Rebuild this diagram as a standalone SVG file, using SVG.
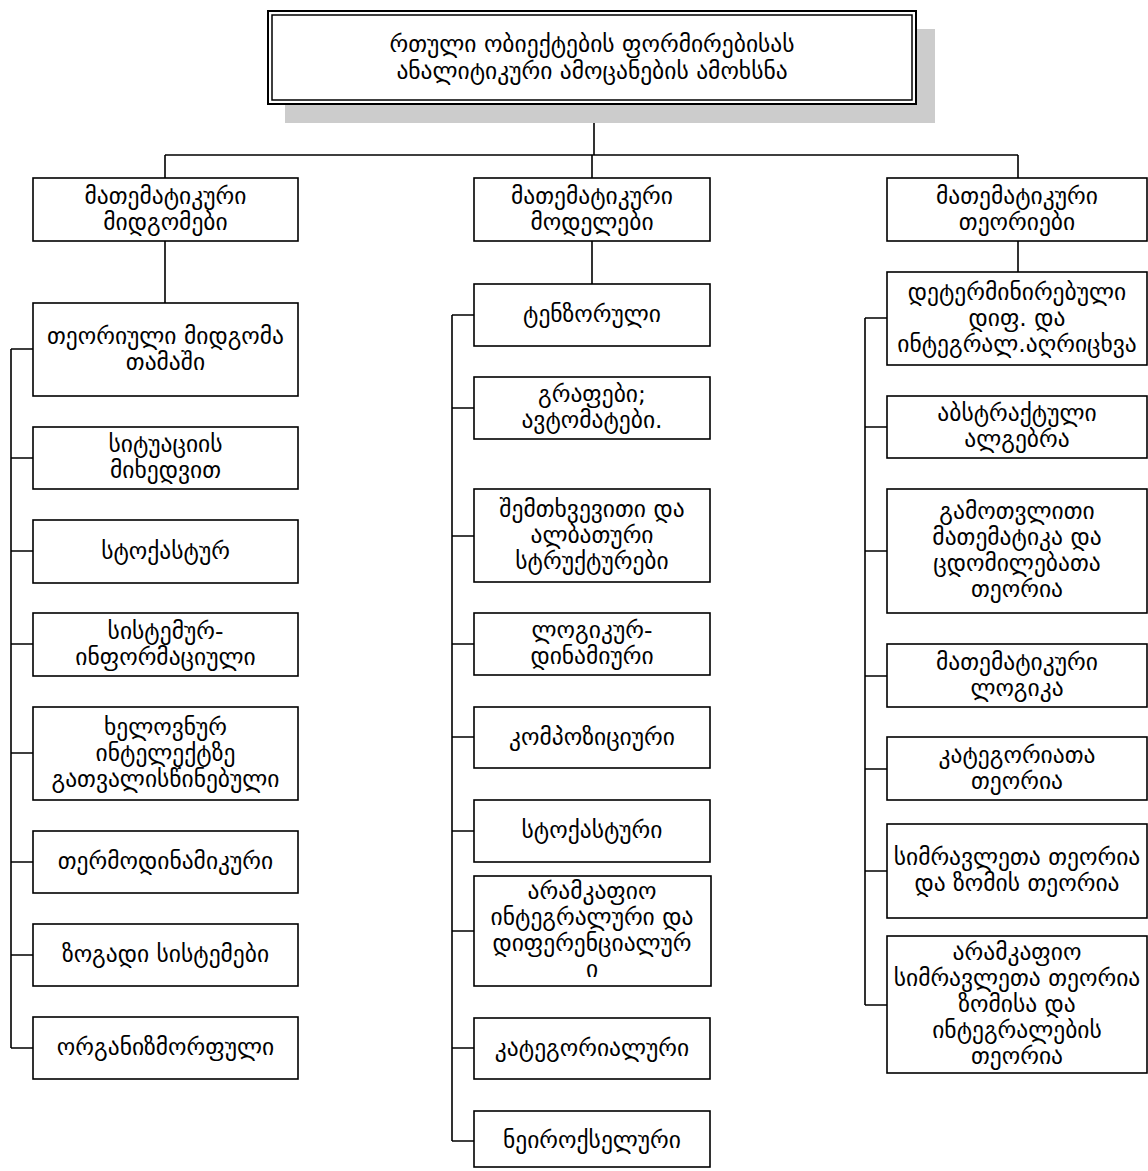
<svg xmlns="http://www.w3.org/2000/svg" width="1148" height="1171" viewBox="0 0 1148 1171">
<style>
.box{fill:#fff;stroke:#000;stroke-width:1.6}
.ln{fill:none;stroke:#000;stroke-width:1.6}
text{font-family:"DejaVu Sans","Noto Sans",sans-serif;font-size:23.5px;fill:#000;text-anchor:middle}
</style>
<rect width="1148" height="1171" fill="#fff"/>
<g id="connectors">
<path class="ln" d="M594,104 V155 M165,155 H1018 M165,155 V178 M592,155 V178 M1018,155 V178"/>
<path class="ln" d="M165,241 V303 M11,349 V1048 M11,349 H33 M11,458 H33 M11,551 H33 M11,644 H33 M11,753 H33 M11,862 H33 M11,955 H33 M11,1048 H33"/>
<path class="ln" d="M592,241 V284 M452,315 V1141 M452,315 H474 M452,408 H474 M452,536 H474 M452,644 H474 M452,737 H474 M452,831 H474 M452,931 H474 M452,1048 H474 M452,1141 H474"/>
<path class="ln" d="M1018,241 V272 M865,318 V1005 M865,318 H887 M865,427 H887 M865,551 H887 M865,676 H887 M865,769 H887 M865,871 H887 M865,1005 H887"/>
</g>
<g id="root">
<rect x="285" y="29" width="650" height="94" fill="#cccccc"/>
<rect x="268" y="11" width="648" height="93" fill="#fff" stroke="#000" stroke-width="2"/>
<rect x="272" y="15" width="640" height="85" fill="none" stroke="#000" stroke-width="1.5"/>
<text x="592"><tspan x="592" y="52">რთული ობიექტების ფორმირებისას</tspan><tspan x="592" y="79">ანალიტიკური ამოცანების ამოხსნა</tspan></text>
</g>
<g id="c1-header"><rect class="box" x="33" y="178" width="265" height="63"/><text><tspan x="165.5" y="204">მათემატიკური</tspan><tspan x="165.5" y="230">მიდგომები</tspan></text></g>
<g id="c1-n1"><rect class="box" x="33" y="303" width="265" height="93"/><text><tspan x="165.5" y="344">თეორიული მიდგომა</tspan><tspan x="165.5" y="370">თამაში</tspan></text></g>
<g id="c1-n2"><rect class="box" x="33" y="427" width="265" height="62"/><text><tspan x="165.5" y="452">სიტუაციის</tspan><tspan x="165.5" y="478">მიხედვით</tspan></text></g>
<g id="c1-n3"><rect class="box" x="33" y="520" width="265" height="63"/><text x="165.5" y="559">სტოქასტურ</text></g>
<g id="c1-n4"><rect class="box" x="33" y="613" width="265" height="63"/><text><tspan x="165.5" y="639">სისტემურ-</tspan><tspan x="165.5" y="665">ინფორმაციული</tspan></text></g>
<g id="c1-n5"><rect class="box" x="33" y="707" width="265" height="93"/><text><tspan x="165.5" y="735">ხელოვნურ</tspan><tspan x="165.5" y="761">ინტელექტზე</tspan><tspan x="165.5" y="787">გათვალისწინებული</tspan></text></g>
<g id="c1-n6"><rect class="box" x="33" y="831" width="265" height="62"/><text x="165.5" y="869">თერმოდინამიკური</text></g>
<g id="c1-n7"><rect class="box" x="33" y="924" width="265" height="62"/><text x="165.5" y="962">ზოგადი სისტემები</text></g>
<g id="c1-n8"><rect class="box" x="33" y="1017" width="265" height="62"/><text x="165.5" y="1055">ორგანიზმორფული</text></g>
<g id="c2-header"><rect class="box" x="474" y="178" width="236" height="63"/><text><tspan x="592" y="204">მათემატიკური</tspan><tspan x="592" y="230">მოდელები</tspan></text></g>
<g id="c2-n1"><rect class="box" x="474" y="284" width="236" height="62"/><text x="592" y="322">ტენზორული</text></g>
<g id="c2-n2"><rect class="box" x="474" y="377" width="236" height="62"/><text><tspan x="592" y="402">გრაფები;</tspan><tspan x="592" y="428">ავტომატები.</tspan></text></g>
<g id="c2-n3"><rect class="box" x="474" y="489" width="236" height="93"/><text><tspan x="592" y="517">შემთხვევითი და</tspan><tspan x="592" y="543">ალბათური</tspan><tspan x="592" y="569">სტრუქტურები</tspan></text></g>
<g id="c2-n4"><rect class="box" x="474" y="613" width="236" height="62"/><text><tspan x="592" y="638">ლოგიკურ-</tspan><tspan x="592" y="664">დინამიური</tspan></text></g>
<g id="c2-n5"><rect class="box" x="474" y="707" width="236" height="61"/><text x="592" y="745">კომპოზიციური</text></g>
<g id="c2-n6"><rect class="box" x="474" y="800" width="236" height="62"/><text x="592" y="838">სტოქასტური</text></g>
<g id="c2-n7"><rect class="box" x="474" y="876" width="237" height="110"/><text><tspan x="592" y="899">არამკაფიო</tspan><tspan x="592" y="925">ინტეგრალური და</tspan><tspan x="592" y="951">დიფერენციალურ</tspan><tspan x="592" y="977">ი</tspan></text></g>
<g id="c2-n8"><rect class="box" x="474" y="1018" width="236" height="61"/><text x="592" y="1056">კატეგორიალური</text></g>
<g id="c2-n9"><rect class="box" x="474" y="1111" width="236" height="56"/><text x="592" y="1148">ნეიროქსელური</text></g>
<g id="c3-header"><rect class="box" x="887" y="178" width="260" height="63"/><text><tspan x="1017" y="204">მათემატიკური</tspan><tspan x="1017" y="230">თეორიები</tspan></text></g>
<g id="c3-n1"><rect class="box" x="887" y="272" width="260" height="93"/><text><tspan x="1017" y="300">დეტერმინირებული</tspan><tspan x="1017" y="326">დიფ. და</tspan><tspan x="1017" y="352">ინტეგრალ.აღრიცხვა</tspan></text></g>
<g id="c3-n2"><rect class="box" x="887" y="396" width="260" height="62"/><text><tspan x="1017" y="421">აბსტრაქტული</tspan><tspan x="1017" y="447">ალგებრა</tspan></text></g>
<g id="c3-n3"><rect class="box" x="887" y="489" width="260" height="124"/><text><tspan x="1017" y="519">გამოთვლითი</tspan><tspan x="1017" y="545">მათემატიკა და</tspan><tspan x="1017" y="571">ცდომილებათა</tspan><tspan x="1017" y="597">თეორია</tspan></text></g>
<g id="c3-n4"><rect class="box" x="887" y="644" width="260" height="63"/><text><tspan x="1017" y="670">მათემატიკური</tspan><tspan x="1017" y="696">ლოგიკა</tspan></text></g>
<g id="c3-n5"><rect class="box" x="887" y="737" width="260" height="63"/><text><tspan x="1017" y="763">კატეგორიათა</tspan><tspan x="1017" y="789">თეორია</tspan></text></g>
<g id="c3-n6"><rect class="box" x="887" y="824" width="260" height="94"/><text><tspan x="1017" y="865">სიმრავლეთა თეორია</tspan><tspan x="1017" y="891">და ზომის თეორია</tspan></text></g>
<g id="c3-n7"><rect class="box" x="887" y="936" width="260" height="137"/><text><tspan x="1017" y="960">არამკაფიო</tspan><tspan x="1017" y="986">სიმრავლეთა თეორია</tspan><tspan x="1017" y="1012">ზომისა და</tspan><tspan x="1017" y="1038">ინტეგრალების</tspan><tspan x="1017" y="1064">თეორია</tspan></text></g>
</svg>
